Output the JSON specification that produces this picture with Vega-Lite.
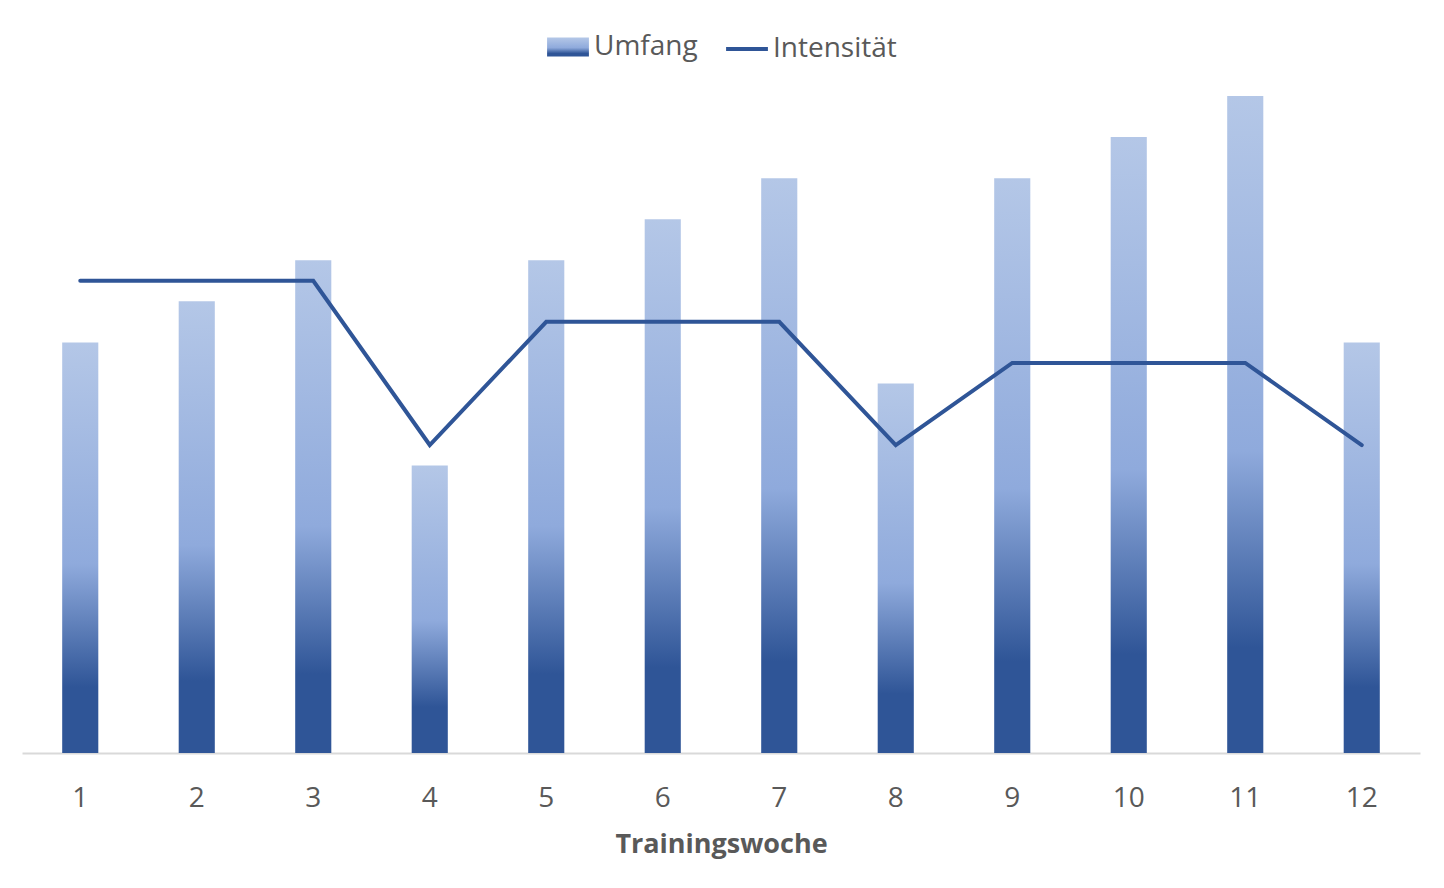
{
  "$schema": "https://vega.github.io/schema/vega-lite/v6.json",
  "width": 1398,
  "height": 657,
  "autosize": {"type": "none"},
  "padding": {"left": 22, "top": 96, "right": 24, "bottom": 135},
  "background": "white",
  "data": {
    "values": [
      {"woche": "1", "umfang": 10, "intensitaet": 11.5},
      {"woche": "2", "umfang": 11, "intensitaet": 11.5},
      {"woche": "3", "umfang": 12, "intensitaet": 11.5},
      {"woche": "4", "umfang": 7, "intensitaet": 7.5},
      {"woche": "5", "umfang": 12, "intensitaet": 10.5},
      {"woche": "6", "umfang": 13, "intensitaet": 10.5},
      {"woche": "7", "umfang": 14, "intensitaet": 10.5},
      {"woche": "8", "umfang": 9, "intensitaet": 7.5},
      {"woche": "9", "umfang": 14, "intensitaet": 9.5},
      {"woche": "10", "umfang": 15, "intensitaet": 9.5},
      {"woche": "11", "umfang": 16, "intensitaet": 9.5},
      {"woche": "12", "umfang": 10, "intensitaet": 7.5}
    ]
  },
  "encoding": {
    "x": {
      "field": "woche",
      "type": "ordinal",
      "sort": null,
      "title": "Trainingswoche",
      "scale": {"paddingInner": 0.69, "paddingOuter": 0.345},
      "axis": {
        "labelAngle": 0,
        "labelFont": "Open Sans",
        "labelFontSize": 28,
        "labelColor": "#595959",
        "labelPadding": 31,
        "ticks": false,
        "domainColor": "#D9D9D9",
        "domainWidth": 2,
        "titleFont": "Open Sans",
        "titleFontSize": 27,
        "titleFontWeight": "bold",
        "titleColor": "#595959",
        "titlePadding": 19
      }
    }
  },
  "layer": [
    {
      "mark": {
        "type": "bar",
        "fill": {
          "gradient": "linear",
          "x1": 0, "y1": 1, "x2": 0, "y2": 0,
          "stops": [
            {"offset": 0, "color": "#2F5597"},
            {"offset": 0.16, "color": "#2F5597"},
            {"offset": 0.46, "color": "#8FAADC"},
            {"offset": 1, "color": "#B4C7E7"}
          ]
        }
      },
      "encoding": {
        "y": {
          "field": "umfang",
          "type": "quantitative",
          "scale": {"domain": [0, 16], "nice": false},
          "axis": null
        },
        "opacity": {
          "datum": "Umfang",
          "type": "nominal",
          "scale": {"range": [1]},
          "legend": {
            "title": null,
            "symbolType": "M-1,-0.45H1V0.45H-1Z",
            "symbolSize": 1750,
            "symbolStrokeWidth": 4,
            "symbolStrokeColor": "transparent",
            "encode": {
              "symbols": {
                "update": {
                  "fill": {
                    "value": {
                      "gradient": "linear",
                      "x1": 0, "y1": 1, "x2": 0, "y2": 0,
                      "stops": [
                        {"offset": 0, "color": "#2F5597"},
                        {"offset": 0.16, "color": "#2F5597"},
                        {"offset": 0.46, "color": "#8FAADC"},
                        {"offset": 1, "color": "#B4C7E7"}
                      ]
                    }
                  }
                }
              }
            }
          }
        }
      }
    },
    {
      "mark": {"type": "line", "strokeWidth": 4, "strokeCap": "round", "color": "#2F5597"},
      "encoding": {
        "y": {
          "field": "intensitaet",
          "type": "quantitative",
          "scale": {"domain": [0, 16], "nice": false},
          "axis": null
        },
        "stroke": {
          "datum": "Intensität",
          "type": "nominal",
          "scale": {"range": ["#2F5597"]},
          "legend": {
            "title": null,
            "symbolType": "stroke",
            "symbolSize": 1750,
            "symbolStrokeWidth": 4
          }
        }
      }
    }
  ],
  "resolve": {"scale": {"y": "shared"}},
  "config": {
    "view": {"stroke": null},
    "legend": {
      "orient": "top",
      "offset": 31,
      "labelFont": "Open Sans",
      "labelFontSize": 28,
      "labelColor": "#595959",
      "labelOffset": 3,
      "columnPadding": 20,
      "layout": {"top": {"anchor": "middle", "direction": "horizontal", "margin": 26, "center": true}}
    }
  }
}
